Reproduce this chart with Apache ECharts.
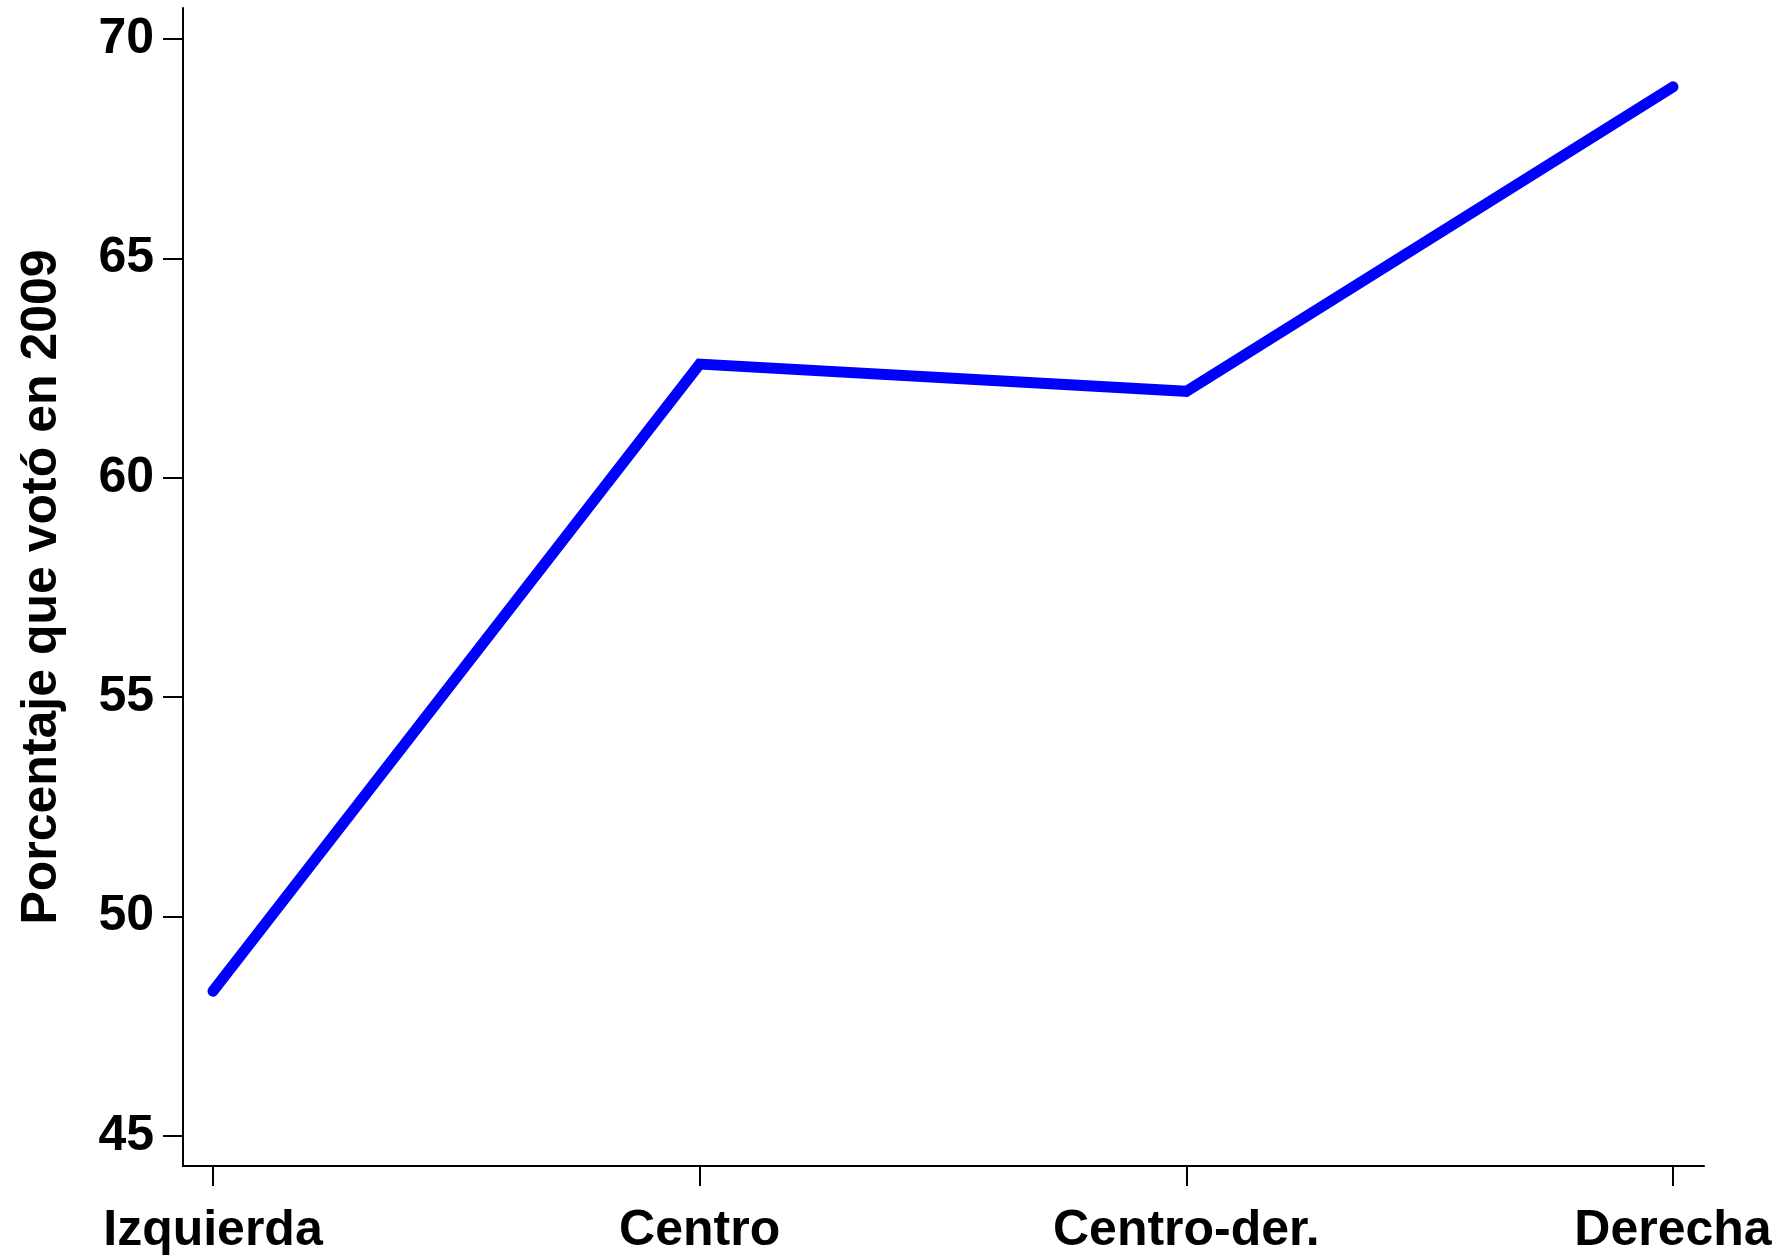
<!DOCTYPE html>
<html>
<head>
<meta charset="utf-8">
<script src="https://cdn.jsdelivr.net/npm/echarts@6/dist/echarts.min.js"></script>
<style>html,body{margin:0;padding:0;background:#fff}#c{width:1786px;height:1257px}</style>
</head>
<body>
<div id="c"></div>
<script>
const categories = ['Izquierda', 'Centro', 'Centro-der.', 'Derecha'];
const values = [48.3, 62.59, 61.97, 68.91];
const yTicks = [45, 50, 55, 60, 65, 70];
const yTitle = 'Porcentaje que votó en 2009';

const chart = echarts.init(document.getElementById('c'), null, {renderer: 'canvas'});
const font = 'Liberation Sans, Arial, sans-serif';
chart.setOption({
  animation: false,
  backgroundColor: '#fff',
  grid: {left: 183, top: 8, right: 82, bottom: 91, containLabel: false, outerBoundsMode: 'none'},
  xAxis: {
    type: 'value',
    min: -0.0616,
    max: 3.0637,
    splitLine: {show: false},
    axisLine: {show: true, onZero: false, lineStyle: {color: '#000', width: 2}},
    axisTick: {show: true, length: 20, lineStyle: {color: '#000', width: 2}, customValues: categories.map((c, i) => i)},
    axisLabel: {
      customValues: categories.map((c, i) => i),
      formatter: v => categories[Math.round(v)] || '',
      color: '#000', fontSize: 50, fontWeight: 'bold', fontFamily: font, margin: 40
    }
  },
  yAxis: {
    type: 'value',
    min: 44.316,
    max: 70.706,
    name: yTitle,
    nameLocation: 'middle',
    nameGap: 116,
    nameTextStyle: {color: '#000', fontSize: 50, fontWeight: 'bold', fontFamily: font},
    splitLine: {show: false},
    axisLine: {show: true, onZero: false, lineStyle: {color: '#000', width: 2}},
    axisTick: {show: true, length: 20, lineStyle: {color: '#000', width: 2}, customValues: yTicks},
    axisLabel: {customValues: yTicks, color: '#000', fontSize: 50, fontWeight: 'bold', fontFamily: font, margin: 29}
  },
  series: [{
    type: 'line',
    data: values.map((v, i) => [i, v]),
    showSymbol: false,
    lineStyle: {color: '#0000ff', width: 11, cap: 'round', join: 'miter'},
    itemStyle: {color: '#0000ff'}
  }]
});
</script>
</body>
</html>
